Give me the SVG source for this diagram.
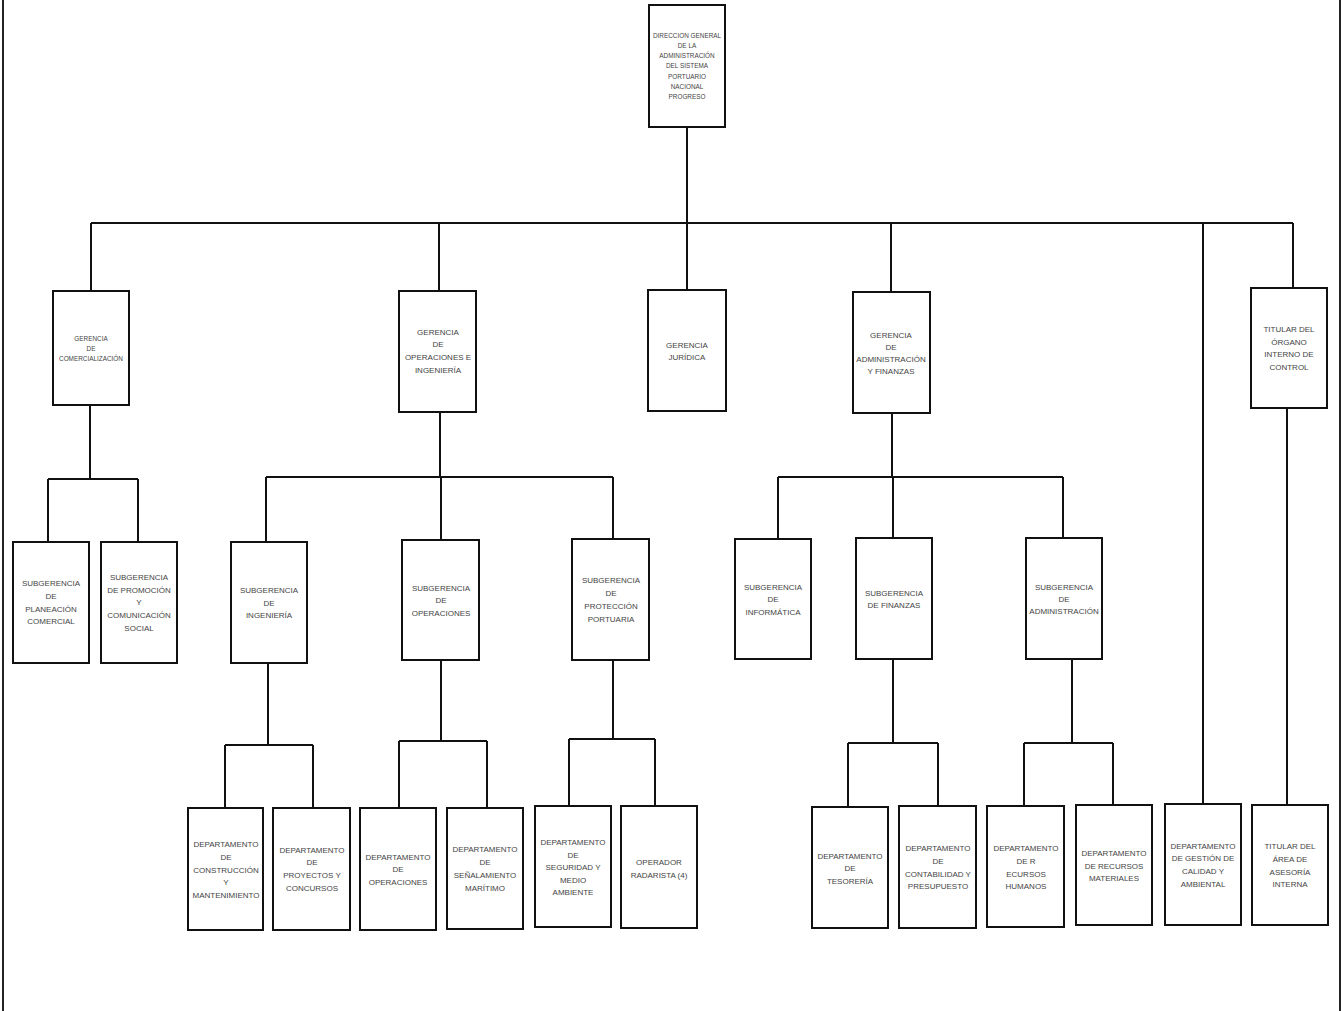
<svg xmlns="http://www.w3.org/2000/svg" width="1343" height="1011" viewBox="0 0 1343 1011">
<style>
.b{fill:#fff;stroke:#111;stroke-width:2}
.c{fill:none;stroke:#111;stroke-width:2}
.f{fill:none;stroke:#222;stroke-width:2}
.t{font-family:"Liberation Sans",Arial,sans-serif;font-size:8px;fill:#444;text-anchor:middle}
.s{font-size:6.4px}
</style>
<rect x="0" y="0" width="1343" height="1011" fill="#fff"/>
<line class="f" x1="3" y1="0" x2="3" y2="1011"/>
<line class="f" x1="1340" y1="0" x2="1340" y2="1011" stroke="#777"/>
<g id="connectors">
<path class="c" d="M687,127V223M91,223H1293M91,223V291M439,223V291M687,223V290M891,223V292M1203,223V804M1293,223V288"/>
<path class="c" d="M90,405V479M48,479H138M48,479V542M138,479V542"/>
<path class="c" d="M440,412V477M266,477H613M266,477V542M441,477V540M613,477V539"/>
<path class="c" d="M892,413V477M778,477H1063M778,477V539M893,477V538M1063,477V538"/>
<path class="c" d="M268,663V745M225,745H313M225,745V808M313,745V808"/>
<path class="c" d="M441,660V741M399,741H487M399,741V808M487,741V808"/>
<path class="c" d="M613,660V739M569,739H655M569,739V806M655,739V806"/>
<path class="c" d="M893,659V743M848,743H938M848,743V807M938,743V806"/>
<path class="c" d="M1072,659V743M1024,743H1113M1024,743V806M1113,743V805"/>
<path class="c" d="M1287,408V805"/>
</g>
<g id="n_direccion"><rect class="b" x="649" y="5" width="76" height="122"/>
<text class="t s" x="687"><tspan x="687" y="38">DIRECCION GENERAL</tspan><tspan x="687" y="48">DE LA</tspan><tspan x="687" y="58">ADMINISTRACIÓN</tspan><tspan x="687" y="68">DEL SISTEMA</tspan><tspan x="687" y="79">PORTUARIO</tspan><tspan x="687" y="89">NACIONAL</tspan><tspan x="687" y="99">PROGRESO</tspan></text></g>
<g id="n_comercializacion"><rect class="b" x="53" y="291" width="76" height="114"/>
<text class="t s"><tspan x="91" y="341">GERENCIA</tspan><tspan x="91" y="351">DE</tspan><tspan x="91" y="361">COMERCIALIZACIÓN</tspan></text></g>
<g id="n_operaciones_ing"><rect class="b" x="399" y="291" width="77" height="121"/>
<text class="t"><tspan x="438" y="335">GERENCIA</tspan><tspan x="438" y="347">DE</tspan><tspan x="438" y="360">OPERACIONES E</tspan><tspan x="438" y="373">INGENIERÍA</tspan></text></g>
<g id="n_juridica"><rect class="b" x="648" y="290" width="78" height="121"/>
<text class="t"><tspan x="687" y="348">GERENCIA</tspan><tspan x="687" y="360">JURÍDICA</tspan></text></g>
<g id="n_admin_fin"><rect class="b" x="853" y="292" width="77" height="121"/>
<text class="t"><tspan x="891" y="338">GERENCIA</tspan><tspan x="891" y="350">DE</tspan><tspan x="891" y="362">ADMINISTRACIÓN</tspan><tspan x="891" y="374">Y FINANZAS</tspan></text></g>
<g id="n_oic"><rect class="b" x="1251" y="288" width="76" height="120"/>
<text class="t"><tspan x="1289" y="332">TITULAR DEL</tspan><tspan x="1289" y="345">ÓRGANO</tspan><tspan x="1289" y="357">INTERNO DE</tspan><tspan x="1289" y="370">CONTROL</tspan></text></g>
<g id="n_planeacion"><rect class="b" x="13" y="542" width="76" height="121"/>
<text class="t"><tspan x="51" y="586">SUBGERENCIA</tspan><tspan x="51" y="599">DE</tspan><tspan x="51" y="612">PLANEACIÓN</tspan><tspan x="51" y="624">COMERCIAL</tspan></text></g>
<g id="n_promocion"><rect class="b" x="101" y="542" width="76" height="121"/>
<text class="t"><tspan x="139" y="580">SUBGERENCIA</tspan><tspan x="139" y="593">DE PROMOCIÓN</tspan><tspan x="139" y="605">Y</tspan><tspan x="139" y="618">COMUNICACIÓN</tspan><tspan x="139" y="631">SOCIAL</tspan></text></g>
<g id="n_sub_ingenieria"><rect class="b" x="231" y="542" width="76" height="121"/>
<text class="t"><tspan x="269" y="593">SUBGERENCIA</tspan><tspan x="269" y="606">DE</tspan><tspan x="269" y="618">INGENIERÍA</tspan></text></g>
<g id="n_sub_operaciones"><rect class="b" x="402" y="540" width="77" height="120"/>
<text class="t"><tspan x="441" y="591">SUBGERENCIA</tspan><tspan x="441" y="603">DE</tspan><tspan x="441" y="616">OPERACIONES</tspan></text></g>
<g id="n_sub_proteccion"><rect class="b" x="572" y="539" width="77" height="121"/>
<text class="t"><tspan x="611" y="583">SUBGERENCIA</tspan><tspan x="611" y="596">DE</tspan><tspan x="611" y="609">PROTECCIÓN</tspan><tspan x="611" y="622">PORTUARIA</tspan></text></g>
<g id="n_sub_informatica"><rect class="b" x="735" y="539" width="76" height="120"/>
<text class="t"><tspan x="773" y="590">SUBGERENCIA</tspan><tspan x="773" y="602">DE</tspan><tspan x="773" y="615">INFORMÁTICA</tspan></text></g>
<g id="n_sub_finanzas"><rect class="b" x="856" y="538" width="76" height="121"/>
<text class="t"><tspan x="894" y="596">SUBGERENCIA</tspan><tspan x="894" y="608">DE FINANZAS</tspan></text></g>
<g id="n_sub_administracion"><rect class="b" x="1026" y="538" width="76" height="121"/>
<text class="t"><tspan x="1064" y="590">SUBGERENCIA</tspan><tspan x="1064" y="602">DE</tspan><tspan x="1064" y="614">ADMINISTRACIÓN</tspan></text></g>
<g id="n_construccion"><rect class="b" x="188" y="808" width="75" height="122"/>
<text class="t"><tspan x="226" y="847">DEPARTAMENTO</tspan><tspan x="226" y="860">DE</tspan><tspan x="226" y="873">CONSTRUCCIÓN</tspan><tspan x="226" y="885">Y</tspan><tspan x="226" y="898">MANTENIMIENTO</tspan></text></g>
<g id="n_proyectos"><rect class="b" x="273" y="808" width="77" height="122"/>
<text class="t"><tspan x="312" y="853">DEPARTAMENTO</tspan><tspan x="312" y="865">DE</tspan><tspan x="312" y="878">PROYECTOS Y</tspan><tspan x="312" y="891">CONCURSOS</tspan></text></g>
<g id="n_dep_operaciones"><rect class="b" x="360" y="808" width="76" height="122"/>
<text class="t"><tspan x="398" y="860">DEPARTAMENTO</tspan><tspan x="398" y="872">DE</tspan><tspan x="398" y="885">OPERACIONES</tspan></text></g>
<g id="n_senalamiento"><rect class="b" x="447" y="808" width="76" height="121"/>
<text class="t"><tspan x="485" y="852">DEPARTAMENTO</tspan><tspan x="485" y="865">DE</tspan><tspan x="485" y="878">SEÑALAMIENTO</tspan><tspan x="485" y="891">MARÍTIMO</tspan></text></g>
<g id="n_seguridad"><rect class="b" x="535" y="806" width="76" height="121"/>
<text class="t"><tspan x="573" y="845">DEPARTAMENTO</tspan><tspan x="573" y="858">DE</tspan><tspan x="573" y="870">SEGURIDAD Y</tspan><tspan x="573" y="883">MEDIO</tspan><tspan x="573" y="895">AMBIENTE</tspan></text></g>
<g id="n_radarista"><rect class="b" x="621" y="806" width="76" height="122"/>
<text class="t"><tspan x="659" y="865">OPERADOR</tspan><tspan x="659" y="878">RADARISTA (4)</tspan></text></g>
<g id="n_tesoreria"><rect class="b" x="812" y="807" width="76" height="121"/>
<text class="t"><tspan x="850" y="859">DEPARTAMENTO</tspan><tspan x="850" y="871">DE</tspan><tspan x="850" y="884">TESORERÍA</tspan></text></g>
<g id="n_contabilidad"><rect class="b" x="899" y="806" width="77" height="122"/>
<text class="t"><tspan x="938" y="851">DEPARTAMENTO</tspan><tspan x="938" y="864">DE</tspan><tspan x="938" y="877">CONTABILIDAD Y</tspan><tspan x="938" y="889">PRESUPUESTO</tspan></text></g>
<g id="n_rrhh"><rect class="b" x="987" y="806" width="77" height="121"/>
<text class="t"><tspan x="1026" y="851">DEPARTAMENTO</tspan><tspan x="1026" y="864">DE R</tspan><tspan x="1026" y="877">ECURSOS</tspan><tspan x="1026" y="889">HUMANOS</tspan></text></g>
<g id="n_rmateriales"><rect class="b" x="1076" y="805" width="76" height="120"/>
<text class="t"><tspan x="1114" y="856">DEPARTAMENTO</tspan><tspan x="1114" y="869">DE RECURSOS</tspan><tspan x="1114" y="881">MATERIALES</tspan></text></g>
<g id="n_calidad"><rect class="b" x="1165" y="804" width="76" height="121"/>
<text class="t"><tspan x="1203" y="849">DEPARTAMENTO</tspan><tspan x="1203" y="861">DE GESTIÓN DE</tspan><tspan x="1203" y="874">CALIDAD Y</tspan><tspan x="1203" y="887">AMBIENTAL</tspan></text></g>
<g id="n_asesoria"><rect class="b" x="1252" y="805" width="76" height="120"/>
<text class="t"><tspan x="1290" y="849">TITULAR DEL</tspan><tspan x="1290" y="862">ÁREA DE</tspan><tspan x="1290" y="875">ASESORÍA</tspan><tspan x="1290" y="887">INTERNA</tspan></text></g>
</svg>
